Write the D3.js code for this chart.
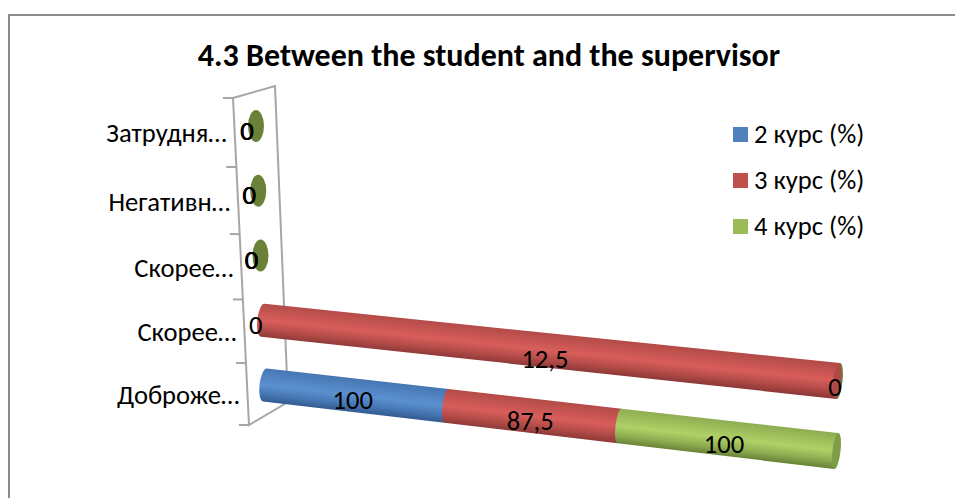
<!DOCTYPE html>
<html>
<head>
<meta charset="utf-8">
<script src="https://cdn.jsdelivr.net/npm/d3@7"></script>
<style>
  html, body { margin: 0; padding: 0; background: #fff; }
  svg { display: block; }
  text { font-family: Carlito, Lato, "Open Sans", sans-serif; fill: #000; }
</style>
</head>
<body>
<svg id="chart" width="955" height="498"></svg>
<script>
const titleText = "4.3 Between the student and the supervisor";
const categories = ["Доброже…", "Скорее…", "Скорее…", "Негативн…", "Затрудня…"];
const seriesNames = ["2 курс (%)", "3 курс (%)", "4 курс (%)"];
const course2 = [100, 0, 0, 0, 0];
const course3 = [87.5, 12.5, 0, 0, 0];
const course4 = [100, 0, 0, 0, 0];
const seriesColors = ["#4f81bd", "#c0504d", "#9bbb59"];
const seriesShades = [
  ["#4676b2", "#5b90d1", "#325a90"],
  ["#b34b48", "#d85e5b", "#8f3a38"],
  ["#8fae52", "#afd165", "#6c8639"]
];
const zeroDiscColor = "#6a8238";
const labelSize = 26.6;

const svg = d3.select("#chart");
const defs = svg.append("defs");

// Frame around the chart area
svg.append("path")
  .attr("d", "M9,498V15H955")
  .attr("fill", "none").attr("stroke", "#8c8c8c").attr("stroke-width", 2);

svg.append("text").text(titleText)
  .attr("x", 489).attr("y", 66)
  .attr("text-anchor", "middle")
  .attr("font-size", 32).attr("font-weight", 700);

// Tilted back wall carrying the category axis
const wall = { tl: [233, 98], tr: [275, 86], br: [288, 402], bl: [249, 425] };
svg.append("path")
  .attr("d", d3.line()([wall.tl, wall.tr, wall.br, wall.bl, wall.tl]))
  .attr("fill", "#fff").attr("stroke", "#a6a6a6").attr("stroke-width", 2);

// Projective easing: foreshortens positions the way the 3D camera does
const project = (t, w) => t / (t + (1 - t) * w);

const rowOrder = d3.range(categories.length).reverse();
const rowUnit = d3.scaleLinear().domain([0, categories.length]).range([0, 1]);
const wallY = d3.scaleLinear().domain([0, 1]).range([wall.tl[1], wall.bl[1]]);
const wallX = d3.scaleLinear().domain([wall.tl[1], wall.bl[1]]).range([wall.tl[0], wall.bl[0]]);
const tickY = i => wallY(project(rowUnit(i), 0.935));

// Axis ticks and category labels
d3.range(categories.length + 1).forEach(i => {
  const y = tickY(i);
  const x = wallX(y);
  svg.append("line")
    .attr("x1", x - 10).attr("x2", x).attr("y1", y).attr("y2", y)
    .attr("stroke", "#a6a6a6").attr("stroke-width", 2);
});
rowOrder.forEach((row, i) => {
  const y = (tickY(i) + tickY(i + 1)) / 2;
  svg.append("text").text(categories[row])
    .attr("x", wallX(y) - 8).attr("y", y + 10)
    .attr("text-anchor", "end").attr("font-size", labelSize);
});

// Centre line of each row: rear end near the wall, front end far to the right
const startX = d3.scaleLinear().domain([0, 4]).range([265, 256]);
const startY = d3.scaleLinear().domain([0, 4]).range([385, 126]);
const endX = d3.scaleLinear().domain([0, 1]).range([836, 838]);
const endY = d3.scaleLinear().domain([0, 1]).range([451, 381]);
const perspective = 1.145;

// Cumulative shares per row, stacked to 100%
const rows = categories.map((c, r) => {
  const vals = [course2[r], course3[r], course4[r]];
  const total = d3.sum(vals);
  let acc = 0;
  return vals.map((v, s) => {
    const f0 = total ? acc / total : 0;
    acc += v;
    const f1 = total ? acc / total : 0;
    return { row: r, series: s, value: v, f0, f1 };
  });
});

const pointOn = (r, f) => {
  const t = project(f, perspective);
  return {
    x: startX(r) + (endX(Math.min(r, 1)) - startX(r)) * t,
    y: startY(r) + (endY(Math.min(r, 1)) - startY(r)) * t,
    t, rad: 16.5 + 1.5 * t
  };
};

// One gradient per drawn segment, running across the cylinder
function gradientFor(p0, p1, s, id) {
  const dx = p1.x - p0.x, dy = p1.y - p0.y, len = Math.hypot(dx, dy) || 1;
  const nx = -dy / len, ny = dx / len, r = 17;
  const g = defs.append("linearGradient").attr("id", id)
    .attr("gradientUnits", "userSpaceOnUse")
    .attr("x1", p0.x - nx * r).attr("y1", p0.y - ny * r)
    .attr("x2", p0.x + nx * r).attr("y2", p0.y + ny * r);
  const [edge, light, dark] = seriesShades[s];
  [[0, edge], [0.5, light], [0.78, edge], [1, dark]].forEach(([o, c]) =>
    g.append("stop").attr("offset", o).attr("stop-color", c));
}

function segmentPath(p0, p1, rxStart) {
  const a = Math.atan2(p1.y - p0.y, p1.x - p0.x);
  const deg = a * 180 / Math.PI;
  const nx = -Math.sin(a), ny = Math.cos(a);
  const top0 = [p0.x - nx * p0.rad, p0.y - ny * p0.rad];
  const bot0 = [p0.x + nx * p0.rad, p0.y + ny * p0.rad];
  const top1 = [p1.x - nx * p1.rad, p1.y - ny * p1.rad];
  const bot1 = [p1.x + nx * p1.rad, p1.y + ny * p1.rad];
  return `M${top0}L${top1}A4,${p1.rad} ${deg} 0 1 ${bot1}L${bot0}` +
    `A${rxStart},${p0.rad} ${deg} 0 1 ${top0}Z`;
}

// Cylinders: each stacked slice overlaps the end of the slice before it
rows.forEach((segs, r) => {
  if (r > 1) return;
  segs.filter(d => d.value > 0).forEach(d => {
    const p0 = pointOn(r, d.f0), p1 = pointOn(r, d.f1);
    const id = `seg-${r}-${d.series}`;
    const gp0 = pointOn(r, 0), gp1 = pointOn(r, 1);
    gradientFor(p0, p1, d.series, id);
    svg.append("path").attr("d", segmentPath(p0, p1, d.f0 === 0 ? 5.5 : 4))
      .attr("fill", `url(#${id})`);
    if (d.f1 === 1) {
      const a = Math.atan2(gp1.y - gp0.y, gp1.x - gp0.x) * 180 / Math.PI;
      const face = svg.append("g")
        .attr("transform", `translate(${p1.x},${p1.y}) rotate(${a})`);
      // End face: darker green, and on the red bar the zero 4th-course slice shows as a rim
      face.append("ellipse")
        .attr("cx", 0.5).attr("rx", 4).attr("ry", p1.rad)
        .attr("fill", r === 0 ? "#7f9c47" : zeroDiscColor);
      if (r === 1) {
        face.append("ellipse")
          .attr("cx", -1).attr("rx", 4).attr("ry", p1.rad)
          .attr("fill", "#b04a47");
      }
    }
  });
});

// Zero-height rows collapse to a flat disc on the wall
rows.forEach((segs, r) => {
  if (r < 2) return;
  svg.append("ellipse")
    .attr("cx", startX(r)).attr("cy", startY(r))
    .attr("rx", 8).attr("ry", 16)
    .attr("fill", zeroDiscColor);
});

// Data labels
const labelFmt = v => String(v).replace(".", ",");
const addLabel = (v, x, y) => svg.append("text").text(labelFmt(v))
  .attr("x", x).attr("y", y)
  .attr("text-anchor", "middle").attr("font-size", labelSize);

rows.forEach((segs, r) => {
  if (r === 0) {
    segs.forEach(d => {
      const p = pointOn(r, (d.f0 + d.f1) / 2);
      addLabel(d.value, p.x - 1, p.y + 13 + 2.5 * p.t);
    });
  } else if (r === 1) {
    const start = pointOn(r, 0), end = pointOn(r, 1), mid = pointOn(r, 0.5);
    addLabel(course2[r], start.x - 7, start.y + 14);
    addLabel(course3[r], mid.x + 14, mid.y + 19);
    addLabel(course4[r], end.x - 3, end.y + 15);
  } else {
    // Three overlapping zero labels print as one slightly bolder glyph
    [course2[r], course3[r], course4[r]].forEach((v, k) => {
      addLabel(v, startX(r) - 9.3 + k * 0.3, startY(r) + 13.5);
    });
  }
});

// Legend
const legendY = d3.scalePoint().domain(seriesNames).range([134.5, 226.5]);
seriesNames.forEach((name, i) => {
  const y = legendY(name);
  svg.append("rect")
    .attr("x", 733).attr("y", y - 7.5).attr("width", 15).attr("height", 15)
    .attr("fill", seriesColors[i]);
  svg.append("text").text(name)
    .attr("x", 754).attr("y", y + 8)
    .attr("font-size", labelSize);
});
</script>
</body>
</html>
